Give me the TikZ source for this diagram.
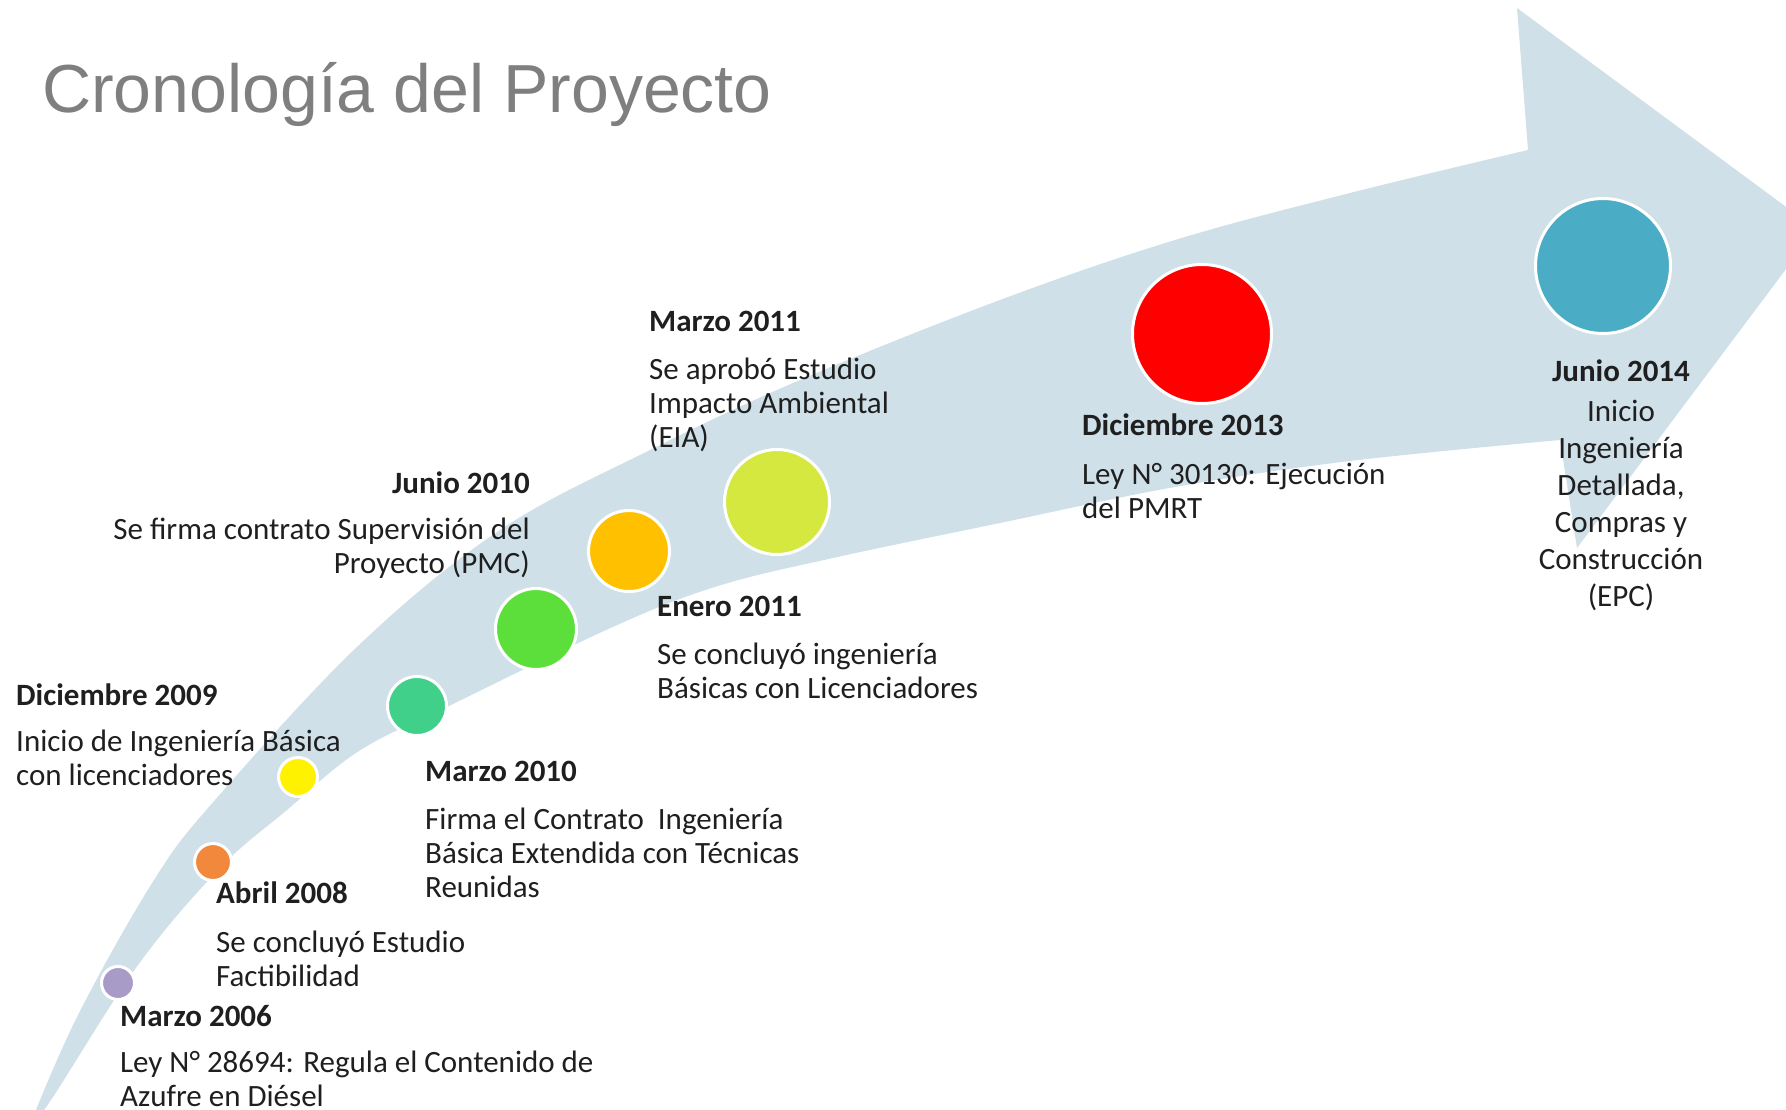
\documentclass[tikz,border=0pt]{standalone}
\usepackage{fontspec}
\setmainfont{Carlito}
\newfontfamily\titlefont{Liberation Sans}
\definecolor{bandc}{HTML}{CFE0E9}
\definecolor{txtc}{HTML}{1F1F1F}
\definecolor{titlec}{HTML}{7F7F7F}
\definecolor{cA}{HTML}{A89BC8}
\definecolor{cB}{HTML}{F1883B}
\definecolor{cC}{HTML}{FFF200}
\definecolor{cD}{HTML}{40D08A}
\definecolor{cE}{HTML}{5CDF3B}
\definecolor{cF}{HTML}{FFC000}
\definecolor{cG}{HTML}{D5E83F}
\definecolor{cH}{HTML}{FF0000}
\definecolor{cI}{HTML}{4BACC6}
\newcommand\blockL[1]{\begin{tabular}[t]{@{}l@{}}#1\end{tabular}}
\newcommand\blockR[1]{\begin{tabular}[t]{@{}r@{}}#1\end{tabular}}
\newcommand\blockC[1]{\begin{tabular}[t]{@{}c@{}}#1\end{tabular}}
\tikzset{
  dot/.style={circle, draw=white, line width=3pt, inner sep=0pt},
  lbl/.style={inner sep=0pt, text=txtc, font=\fontsize{31}{34}\selectfont},
  lblwide/.style={inner sep=0pt, text=txtc, font=\fontsize{31}{37}\selectfont}
}
\begin{document}
\begin{tikzpicture}[x=1pt,y=-1pt]
\useasboundingbox (0,0) rectangle (1786,1109);
\begin{scope}
\clip (0,0) rectangle (1786,1109);
\fill[bandc] plot[smooth, tension=0.6] coordinates {(27,1132) (77,1017) (154,880) (215,800) (359,645) (500,530) (650,450) (800,380) (1000,300) (1175,240) (1350,193) (1528,150)}
  -- (1517,8) -- (1816,229) -- (1577,548) -- (1560,440)
  -- plot[smooth, tension=0.6] coordinates {(1560,440) (1350,461) (1175,487) (1000,523) (833,558) (718,586) (615,626) (451,705) (359,751) (287,810) (220,868) (138,965) (53,1097) (27,1132)}
  -- cycle;
\end{scope}

\node[anchor=base west, inner sep=0pt, text=titlec, font=\titlefont\fontsize{68}{80}\selectfont] (title) at (42,112) {Cronología del Proyecto};

\node[dot, fill=cA, minimum size=33pt] (d2006) at (118,983) {};
\node[dot, fill=cB, minimum size=37pt] (d2008) at (213,862) {};
\node[dot, fill=cC, minimum size=39pt] (d2009) at (298,777) {};
\node[dot, fill=cD, minimum size=59pt] (d2010a) at (417,706) {};
\node[dot, fill=cE, minimum size=81pt] (d2010b) at (536,629) {};
\node[dot, fill=cF, minimum size=81pt] (d2011a) at (629,551) {};
\node[dot, fill=cG, minimum size=105pt] (d2011b) at (777,502) {};
\node[dot, fill=cH, minimum size=139pt] (d2013) at (1202,334) {};
\node[dot, fill=cI, minimum size=135pt] (d2014) at (1603,266) {};

\node[lbl, anchor=base west] (t2006) at (120,1026) {\blockL{\textbf{Marzo 2006}\\[12pt] Ley N° 28694: Regula el Contenido de\\ Azufre en Diésel}};
\node[lbl, anchor=base west] (t2008) at (216,903) {\blockL{\textbf{Abril 2008}\\[15pt] Se concluyó Estudio\\ Factibilidad}};
\node[lbl, anchor=base west] (t2009) at (16,705) {\blockL{\textbf{Diciembre 2009}\\[12pt] Inicio de Ingeniería Básica\\ con licenciadores}};
\node[lbl, anchor=base west] (t2010a) at (425,781) {\blockL{\textbf{Marzo 2010}\\[14pt] Firma el Contrato \ Ingeniería\\ Básica Extendida con Técnicas\\ Reunidas}};
\node[lbl, anchor=base east] (t2010b) at (530,493) {\blockR{\textbf{Junio 2010}\\[12pt] Se firma contrato Supervisión del\\ Proyecto (PMC)}};
\node[lbl, anchor=base west] (t2011a) at (657,616) {\blockL{\textbf{Enero 2011}\\[14pt] Se concluyó ingeniería\\ Básicas con Licenciadores}};
\node[lbl, anchor=base west] (t2011b) at (649,331) {\blockL{\textbf{Marzo 2011}\\[14pt] Se aprobó Estudio\\ Impacto Ambiental\\ (EIA)}};
\node[lbl, anchor=base west] (t2013) at (1082,435) {\blockL{\textbf{Diciembre 2013}\\[15pt] Ley N° 30130: Ejecución\\ del PMRT}};
\node[lblwide, anchor=base] (t2014) at (1621,381) {\blockC{\textbf{Junio 2014}\\[3pt] Inicio\\ Ingeniería\\ Detallada,\\ Compras y\\ Construcción\\ (EPC)}};
\end{tikzpicture}
\end{document}
